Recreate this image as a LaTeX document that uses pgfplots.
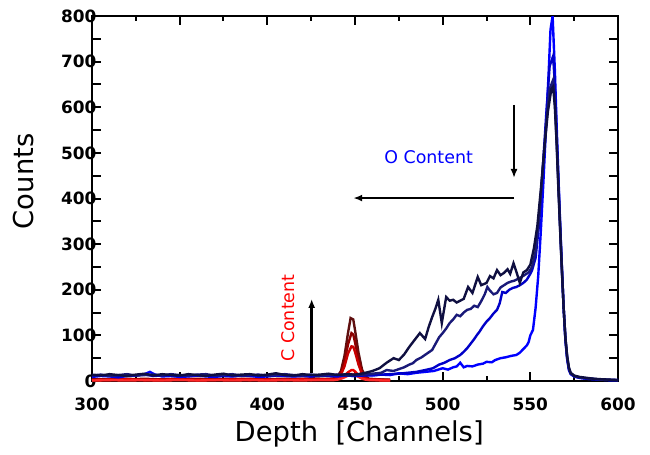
\documentclass[border=0pt]{standalone}
\usepackage{fontspec}
\setmainfont{DejaVu Sans}
\usepackage{pgfplots}
\pgfplotsset{compat=1.18}
\usetikzlibrary{arrows.meta}

\definecolor{bA}{RGB}{0,0,255}
\definecolor{bB}{RGB}{0,0,200}
\definecolor{bC}{RGB}{25,25,120}
\definecolor{bD}{RGB}{15,15,65}
\definecolor{rA}{RGB}{95,15,15}
\definecolor{rB}{RGB}{140,0,0}
\definecolor{rC}{RGB}{200,0,0}
\definecolor{rD}{RGB}{235,0,0}
\definecolor{rE}{RGB}{255,40,40}

\begin{document}
\begin{tikzpicture}
\useasboundingbox (-92bp,-74bp) rectangle (558bp,381bp);
\begin{axis}[
  scale only axis, width=526bp, height=365bp,
  xmin=300, xmax=600, ymin=0, ymax=800,
  xtick={300,350,...,600}, minor x tick num=1,
  ytick={0,100,...,800},
  extra y ticks={50,150,...,750}, extra y tick labels={},
  tickpos=both, tick align=inside,
  major tick length=9bp, minor tick length=5bp,
  tick style={line width=2bp, black},
  axis line style={line width=2.6bp},
  /pgf/number format/assume math mode=true,
  /pgf/number format/1000 sep={},
  tick label style={font=\bfseries\fontsize{17}{17}\selectfont},
  xticklabel style={yshift=-13bp},
  yticklabel style={xshift=8bp},
  xlabel={Depth \ [Channels]}, ylabel={Counts},
  label style={font=\fontsize{27.5}{30}\selectfont},
  xlabel style={at={(rel axis cs:0.508,0)}, anchor=center, yshift=-53bp},
  ylabel style={at={(rel axis cs:-0.131,0.547)}, anchor=center},
  every axis plot/.append style={line width=2.4bp},
  clip=true,
]
% red series (C peak)
\addplot[rA] coordinates {(300,4)(310,3)(320,5)(330,3)(340,4)(350,5)(360,3)(370,4)(380,5)(390,3)(400,4)(410,5)(420,4)(425,6)(430,5)(435,4)(438,6)(440,10)(442,22)(444,55)(446,105)(447.5,138)(449,135)(450,112)(452,62)(454,25)(456,10)(458,5)(462,4)(466,3)(470,3)};
\addplot[rB] coordinates {(300,3)(310,4)(320,3)(330,5)(340,3)(350,4)(360,5)(370,3)(380,4)(390,5)(400,3)(410,4)(420,5)(425,4)(430,3)(435,5)(438,5)(440,8)(442,18)(444,42)(446,80)(448,105)(449,102)(450,85)(452,48)(454,20)(456,8)(458,4)(462,3)(466,3)(470,2)};
\addplot[rC] coordinates {(300,2)(310,3)(320,4)(330,2)(340,3)(350,4)(360,2)(370,3)(380,3)(390,4)(400,2)(410,3)(420,4)(425,3)(430,4)(435,3)(438,4)(440,6)(442,14)(444,32)(446,60)(448,76)(449,75)(450,64)(452,36)(454,15)(456,6)(458,3)(462,3)(466,2)(470,2)};
\addplot[rD] coordinates {(300,2)(310,2)(320,3)(330,2)(340,2)(350,3)(360,2)(370,2)(380,3)(390,2)(400,3)(410,2)(420,3)(425,2)(430,3)(435,3)(438,3)(440,4)(442,7)(444,12)(446,19)(448,24)(449,24)(450,21)(452,13)(454,7)(456,4)(458,3)(462,2)(466,2)(470,2)};
\addplot[rE] coordinates {(300,1)(310,2)(320,1)(330,2)(340,1)(350,2)(360,1)(370,2)(380,1)(390,2)(400,1)(410,2)(420,1)(425,2)(430,2)(435,2)(438,2)(440,3)(442,5)(444,8)(446,12)(448,15)(449,15)(450,13)(452,9)(454,5)(456,3)(458,2)(462,2)(466,1)(470,1)};
% blue series (O peak)
\addplot[bA] coordinates {(300,9)(305,11)(310,10)(315,8)(320,11)(325,12)(330,15)(333,20)(336,14)(340,10)(345,11)(350,9)(355,10)(360,12)(365,10)(370,9)(375,11)(380,10)(385,12)(390,11)(395,9)(400,10)(405,12)(410,11)(415,10)(420,11)(425,10)(430,12)(435,11)(440,10)(445,12)(450,11)(455,13)(460,12)(465,14)(470,13)(475,17)(480,15)(485,18)(490,20)(495,22)(500,28)(503,25)(506,30)(508,32)(510,40)(512,30)(514,33)(517,32)(520,36)(523,38)(525,42)(528,41)(530,46)(533,50)(536,52)(539,55)(542,57)(544,62)(546,70)(548,78)(549,85)(550,100)(551.5,112)(553,160)(554.5,230)(556,330)(557.5,440)(559,560)(560.5,680)(561.5,770)(562.7,800)(564,680)(565,560)(566,450)(567,345)(568,250)(569,160)(570,90)(571,48)(572,24)(573,15)(575,10)(578,7)(582,5)(586,4)(590,3)(595,2)(600,2)};
\addplot[bB] coordinates {(300,11)(305,13)(310,12)(315,10)(320,13)(325,12)(330,14)(335,11)(340,12)(345,13)(350,11)(355,12)(360,13)(365,12)(370,11)(375,12)(380,13)(385,11)(390,12)(395,13)(400,11)(405,12)(410,13)(415,11)(420,12)(425,13)(430,11)(435,12)(440,13)(445,12)(450,11)(455,12)(460,13)(465,14)(470,15)(475,16)(480,18)(485,20)(490,24)(494.5,28)(498,36)(501,40)(504,46)(507,50)(510,57)(512,64)(514,72)(516,82)(518,92)(519.6,101)(521,108)(523,120)(525,130)(527,138)(529,148)(531,156)(532.5,170)(534,195)(536,193)(538,200)(540,204)(542,206)(544,210)(546,215)(548,222)(550,235)(551,243)(553,270)(555,345)(557,460)(559,580)(561,690)(563,712)(564,650)(565,540)(566,440)(567,340)(568,248)(569,160)(570,92)(571,50)(572,26)(573,16)(575,10)(578,7)(582,5)(586,4)(590,3)(595,2)(600,2)};
\addplot[bC] coordinates {(300,12)(305,14)(310,11)(315,13)(320,15)(325,12)(330,13)(335,14)(340,12)(345,15)(350,13)(355,12)(360,14)(365,15)(370,12)(375,13)(380,15)(385,12)(390,13)(395,14)(400,12)(405,13)(410,15)(415,13)(420,12)(425,14)(430,12)(435,13)(440,14)(445,12)(450,13)(455,14)(460,16)(465,18)(468,24)(472,22)(475,26)(478,30)(481,36)(483,39)(485,46)(488,52)(491,60)(494,68)(496,82)(498,96)(500,105)(502,115)(504,127)(506,135)(508,145)(510,142)(512,150)(514,156)(516,158)(518,165)(520,162)(522,175)(524,190)(525.5,206)(527,198)(529,190)(531,193)(533,205)(535,210)(537,215)(539,218)(541,220)(543,224)(545,228)(547,233)(549,238)(551,250)(553,285)(555,360)(557,460)(559,560)(561,640)(563,660)(564,610)(565,525)(566,430)(567,335)(568,245)(569,160)(570,95)(571,52)(572,28)(573,17)(575,11)(578,8)(582,6)(586,5)(590,3)(595,3)(600,2)};
\addplot[bD] coordinates {(300,14)(305,12)(310,15)(315,13)(320,11)(325,14)(330,16)(335,12)(340,15)(345,13)(350,12)(355,15)(360,13)(365,11)(370,14)(375,16)(380,12)(385,14)(390,15)(395,12)(400,14)(405,17)(410,13)(415,12)(420,15)(425,13)(430,14)(435,16)(440,13)(445,15)(450,14)(455,17)(460,22)(464,28)(468,40)(472,50)(475,46)(478,58)(481,75)(484,90)(487,105)(490,92)(492,118)(494,140)(496,160)(497.5,178)(499.5,127)(502,184)(504,176)(506,178)(508,172)(510,176)(512,180)(514.5,206)(517,193)(520,228)(522,210)(525,215)(527,230)(529,225)(531,243)(533,232)(535,237)(537,245)(538.5,235)(540.4,258)(542,240)(544,215)(546,238)(548,243)(550,255)(552,290)(554,340)(556,420)(558,510)(560,590)(562,640)(563,645)(564,600)(565,520)(566,420)(567,330)(568,240)(569,160)(570,95)(571,55)(572,30)(573,18)(575,12)(578,9)(582,7)(586,5)(590,4)(595,3)(600,2)};
% annotations
\draw[-{Latex[length=9bp,width=7bp]}, line width=2.4bp] (axis cs:425.3,18) -- (axis cs:425.3,180);
\node[rotate=90, text=red, font=\fontsize{17.5}{18}\selectfont] at (axis cs:412,138) {C Content};
\draw[-{Latex[length=9bp,width=7bp]}, line width=2.4bp] (axis cs:540.7,605) -- (axis cs:540.7,445);
\draw[-{Latex[length=9bp,width=7bp]}, line width=2.4bp] (axis cs:540.7,401) -- (axis cs:449,401);
\node[text=blue, font=\fontsize{17.5}{18}\selectfont] at (axis cs:492,491) {O Content};
\end{axis}
\end{tikzpicture}
\end{document}
